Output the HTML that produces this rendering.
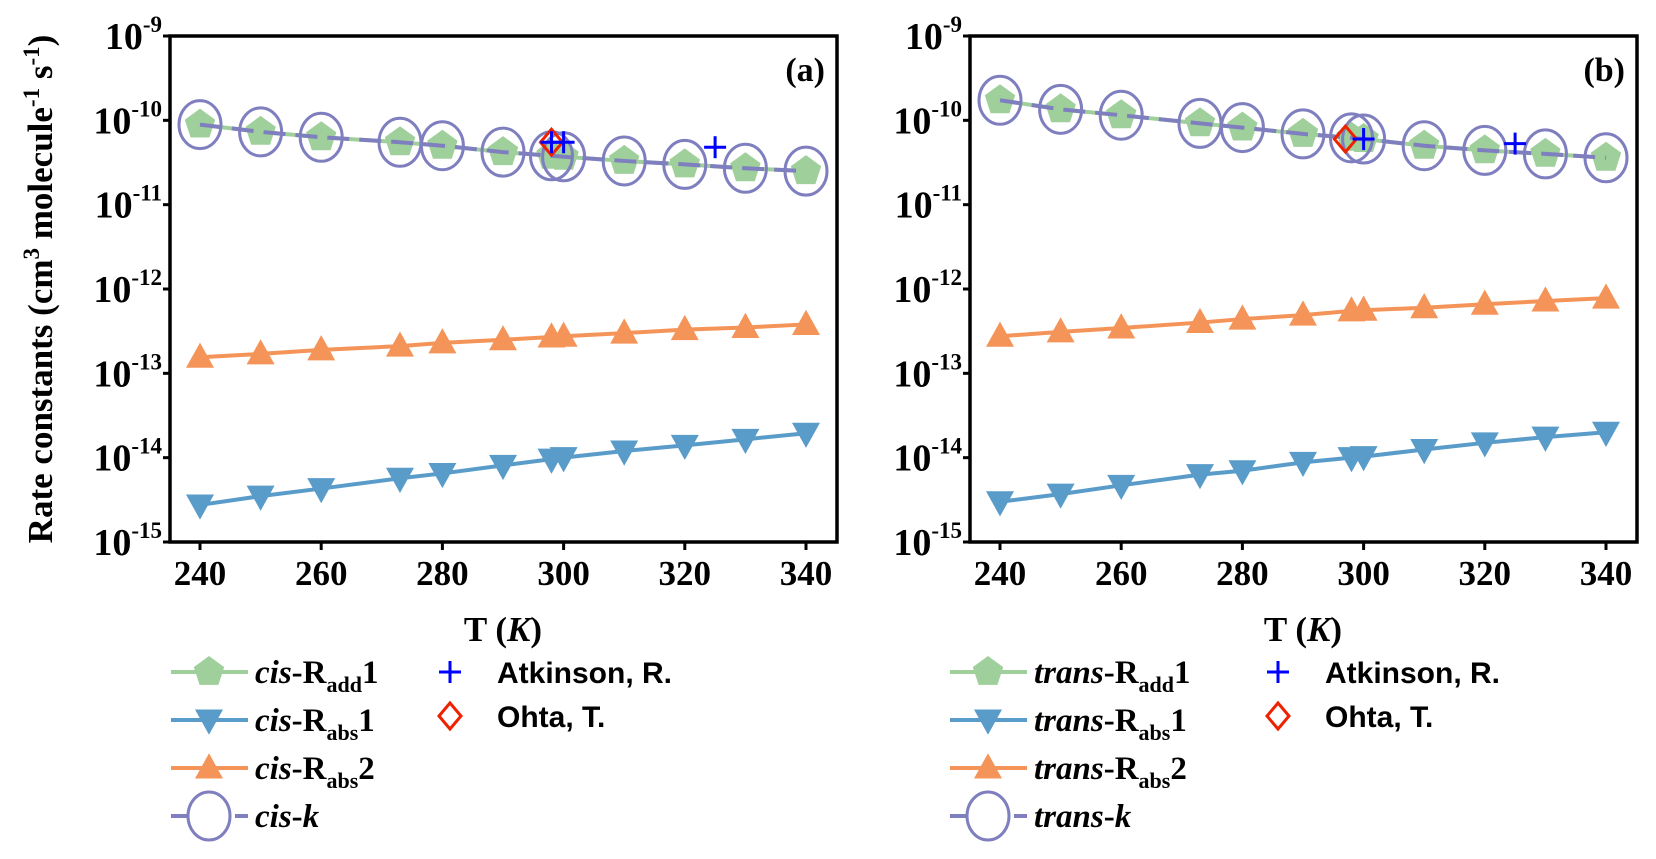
<!DOCTYPE html>
<html><head><meta charset="utf-8">
<style>
body{margin:0;background:#fff;}
svg text{font-family:"Liberation Serif",serif;font-weight:bold;fill:#000;}
</style></head>
<body>
<svg id="chart" width="1656" height="854" viewBox="0 0 1656 854" xmlns="http://www.w3.org/2000/svg">
<text transform="translate(52,289) rotate(-90)" text-anchor="middle" font-size="35">Rate constants (cm<tspan dy="-13" font-size="23">3</tspan><tspan dy="13"> molecule</tspan><tspan dy="-13" font-size="23">-1</tspan><tspan dy="13"> s</tspan><tspan dy="-13" font-size="23">-1</tspan><tspan dy="13">)</tspan></text>
<g id="pa"></g>
<g id="pb"></g>
</svg>
<script>
const temps = [240,250,260,273,280,290,298,300,310,320,330,340];
const xTicks = [240,260,280,300,320,340];
const yExps = [-9,-10,-11,-12,-13,-14,-15];
// panel a (cis)
const cisAdd1 = [8.9e-11,7.3e-11,6.3e-11,5.5e-11,5.0e-11,4.2e-11,3.8e-11,3.7e-11,3.3e-11,3.0e-11,2.7e-11,2.5e-11];
const cisK    = [8.9e-11,7.3e-11,6.3e-11,5.5e-11,5.0e-11,4.2e-11,3.8e-11,3.7e-11,3.3e-11,3.0e-11,2.7e-11,2.5e-11];
const cisAbs1 = [2.75e-15,3.5e-15,4.3e-15,5.7e-15,6.5e-15,8.1e-15,9.6e-15,1.0e-14,1.2e-14,1.4e-14,1.65e-14,1.95e-14];
const cisAbs2 = [1.55e-13,1.7e-13,1.9e-13,2.1e-13,2.3e-13,2.5e-13,2.7e-13,2.75e-13,3.0e-13,3.3e-13,3.5e-13,3.8e-13];
const cisAtkT = [298,300,325];
const cisAtkV = [5.5e-11,5.5e-11,4.8e-11];
const cisOhtaT = [298];
const cisOhtaV = [5.5e-11];
// panel b (trans)
const trAdd1 = [1.73e-10,1.35e-10,1.15e-10,9.2e-11,8.2e-11,6.9e-11,6.2e-11,6.0e-11,5.0e-11,4.4e-11,4.0e-11,3.6e-11];
const trK    = [1.73e-10,1.35e-10,1.15e-10,9.2e-11,8.2e-11,6.9e-11,6.2e-11,6.0e-11,5.0e-11,4.4e-11,4.0e-11,3.6e-11];
const trAbs1 = [3.0e-15,3.7e-15,4.7e-15,6.3e-15,7.0e-15,8.8e-15,1.0e-14,1.03e-14,1.25e-14,1.5e-14,1.75e-14,2.0e-14];
const trAbs2 = [2.75e-13,3.1e-13,3.45e-13,4.0e-13,4.4e-13,4.9e-13,5.5e-13,5.6e-13,6.0e-13,6.6e-13,7.2e-13,7.8e-13];
const trAtkT = [300,325];
const trAtkV = [6.0e-11,5.3e-11];
const trOhtaT = [297];
const trOhtaV = [6.0e-11];

const NS="http://www.w3.org/2000/svg";
const C={green:"#9fcf9a",blue:"#5a9cc9",orange:"#f59459",purple:"#7f7fc0"};
function mk(tag,attrs,parent){const e=document.createElementNS(NS,tag);for(const k in attrs)e.setAttribute(k,attrs[k]);parent.appendChild(e);return e;}

function panel(g,ox,pre,add1,kk,abs1,abs2,atkT,atkV,ohT,ohV,tag,leg){
  const L=170+ox,R=837+ox,T=36,B=542;
  const X=t=>200+ox+(t-240)*6.06;
  const Y=v=>T+(-9-Math.log10(v))*(B-T)/6;
  yExps.forEach(e=>{
    const y=T+(-9-e)*(B-T)/6;
    const tk=mk('line',{x1:L-7,x2:L,y1:y,y2:y,stroke:'#000','stroke-width':3},g);
    
    
    const tx=mk('text',{x:L-8,y:y+13,'text-anchor':'end','font-size':38},g);
    
    
    tx.textContent='10';
    const sp=mk('tspan',{dy:-17,'font-size':23},tx);sp.textContent=String(e);
  });
  xTicks.forEach(t=>{
    const x=X(t);
    const tk=mk('line',{x1:x,x2:x,y1:B,y2:B+8,stroke:'#000','stroke-width':3},g);
    
    
    const tx=mk('text',{x:x,y:B+43,'text-anchor':'middle','font-size':35},g);
    
    
    tx.textContent=t;
  });
  const xt=mk('text',{x:X(290),y:B+99,'text-anchor':'middle','font-size':35},g);
  
  
  xt.innerHTML='T (<tspan font-style="italic">K</tspan>)';
  const pl=mk('text',{x:R-12,y:T+45,'text-anchor':'end','font-size':34},g);
  
  
  pl.textContent=tag;
  const pts=a=>temps.map((t,i)=>X(t)+','+Y(a[i])).join(' ');
  function pent(cx,cy,r,par){let p=[];for(let i=0;i<5;i++){const a=-Math.PI/2+i*2*Math.PI/5;p.push((cx+r*Math.cos(a)).toFixed(1)+','+(cy+r*Math.sin(a)).toFixed(1));}return mk('polygon',{points:p.join(' '),fill:C.green},par);}
  function tri(cx,cy,s,down,col,par){const d=down?1:-1;return mk('polygon',{points:`${cx-s},${cy-d*s*0.75} ${cx+s},${cy-d*s*0.75} ${cx},${cy+d*s*1.05}`,fill:col},par);}
  const l1=mk('polyline',{points:pts(add1),fill:'none',stroke:C.green,'stroke-width':4},g);
  
  
  const l2=mk('polyline',{points:pts(abs1),fill:'none',stroke:C.blue,'stroke-width':4},g);
  
  
  const l3=mk('polyline',{points:pts(abs2),fill:'none',stroke:C.orange,'stroke-width':4},g);
  
  
  temps.forEach((t,i)=>{
    const p=pent(X(t),Y(add1[i]),16,g);
    
    
    const a=tri(X(t),Y(abs1[i]),14,true,C.blue,g);
    
    
    const b=tri(X(t),Y(abs2[i]),14,false,C.orange,g);
    
    
  });
  const lk=mk('polyline',{points:pts(kk),fill:'none',stroke:C.purple,'stroke-width':4,'stroke-dasharray':'22,10'},g);
  
  
  temps.forEach((t,i)=>{
    const c=mk('ellipse',{cx:X(t),cy:Y(kk[i]),rx:21,ry:24,fill:'none',stroke:C.purple,'stroke-width':3},g);
    
    
  });
  function plus(cx,cy,par){const gg=mk('g',{},par);mk('line',{x1:cx-11,x2:cx+11,y1:cy,y2:cy,stroke:'#0000ff','stroke-width':3},gg);mk('line',{x1:cx,x2:cx,y1:cy-11,y2:cy+11,stroke:'#0000ff','stroke-width':3},gg);return gg;}
  function diam(cx,cy,par){return mk('polygon',{points:`${cx},${cy-13} ${cx+11},${cy} ${cx},${cy+13} ${cx-11},${cy}`,fill:'none',stroke:'#ee2200','stroke-width':3},par);}
  ohT.forEach((t,i)=>{const d=diam(X(t),Y(ohV[i]),g);
    
    });
  atkT.forEach((t,i)=>{const p=plus(X(t),Y(atkV[i]),g);
    
    });
  const fr=mk('rect',{x:L,y:T,width:R-L,height:B-T,fill:'none',stroke:'#000','stroke-width':3.5},g);
  
  
  const lx=leg.x, rows=[672,720,768,816];
  const names=['R<tspan dy="9" font-size="22">add</tspan><tspan dy="-9">1</tspan>','R<tspan dy="9" font-size="22">abs</tspan><tspan dy="-9">1</tspan>','R<tspan dy="9" font-size="22">abs</tspan><tspan dy="-9">2</tspan>','<tspan font-style="italic">k</tspan>'];
  const cols=[C.green,C.blue,C.orange,C.purple];
  rows.forEach((y,i)=>{
    const le=mk('g',{},g);
    
    
    mk('line',{x1:lx,x2:lx+77,y1:y,y2:y,stroke:cols[i],'stroke-width':4,'stroke-dasharray':i==3?'22,10':'none'},le);
    const cx=lx+38;
    if(i==0)pent(cx,y,16,le);
    if(i==1)tri(cx,y,14,true,C.blue,le);
    if(i==2)tri(cx,y,14,false,C.orange,le);
    if(i==3)mk('ellipse',{cx:cx,cy:y,rx:21,ry:24,fill:'#fff',stroke:C.purple,'stroke-width':3},le);
    const t=mk('text',{x:lx+84,y:y+11,'font-size':33},le);
    t.innerHTML='<tspan font-style="italic">'+pre+'</tspan>-'+names[i];
  });
  const a1=mk('g',{},g);
  
  
  plus(leg.ax,672,a1);
  mk('text',{x:leg.ax+47,y:683,'font-size':30,style:'font-family:"Liberation Sans",sans-serif'},a1).textContent='Atkinson, R.';
  const a2=mk('g',{},g);
  
  
  diam(leg.ax,716,a2);
  mk('text',{x:leg.ax+47,y:727,'font-size':30,style:'font-family:"Liberation Sans",sans-serif'},a2).textContent='Ohta, T.';
}
panel(document.getElementById('pa'),0,'cis',cisAdd1,cisK,cisAbs1,cisAbs2,cisAtkT,cisAtkV,cisOhtaT,cisOhtaV,'(a)',{x:171,ax:450});
panel(document.getElementById('pb'),800,'trans',trAdd1,trK,trAbs1,trAbs2,trAtkT,trAtkV,trOhtaT,trOhtaV,'(b)',{x:950,ax:1278});
</script>
</body></html>
